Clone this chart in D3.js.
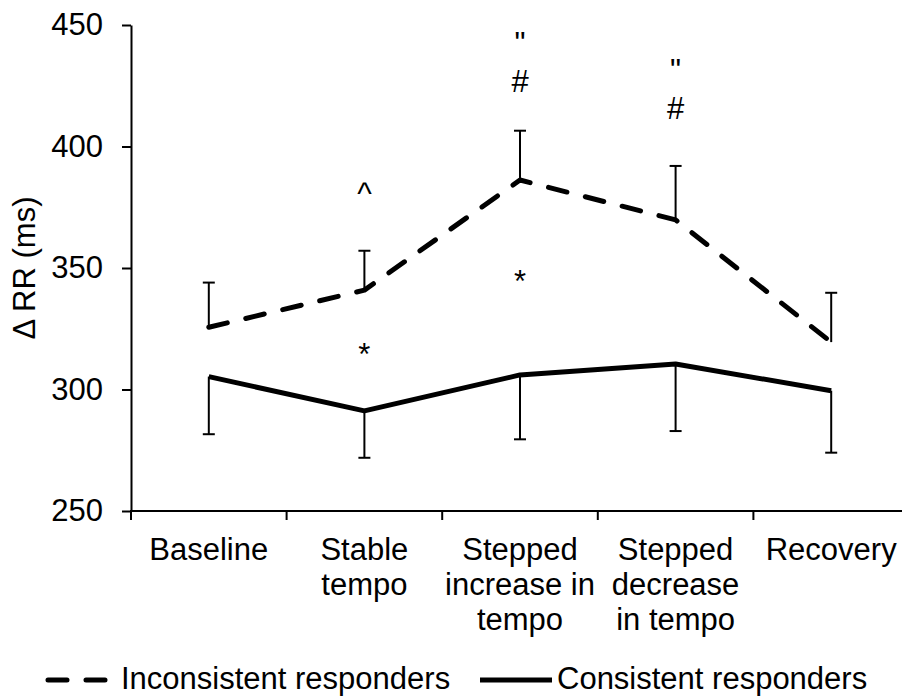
<!DOCTYPE html>
<html>
<head>
<meta charset="utf-8">
<script src="https://cdn.jsdelivr.net/npm/d3@7"></script>
<style>
  html, body { margin: 0; padding: 0; background: #fff; }
  svg { display: block; }
  text { font-family: "Liberation Sans", Arial, sans-serif; fill: #000; }
</style>
</head>
<body>
<svg id="chart" width="902" height="699"></svg>
<script>
// ---- data ----
const categories = ["Baseline", "Stable tempo", "Stepped increase in tempo", "Stepped decrease in tempo", "Recovery"];
const categoryLines = [["Baseline"], ["Stable", "tempo"], ["Stepped", "increase in", "tempo"], ["Stepped", "decrease", "in tempo"], ["Recovery"]];
const inconsistentMean = [325.6, 340.9, 386.2, 369.8, 319.5];
const inconsistentUpper = [344.0, 357.1, 406.5, 392.0, 339.8];
const consistentMean = [305.3, 291.2, 306.0, 310.5, 299.5];
const consistentLower = [281.6, 271.9, 279.5, 282.9, 274.0];
const yTicks = [250, 300, 350, 400, 450];
const annotations = [
  { cat: "Stable tempo", value: 376.5, label: "^" },
  { cat: "Stable tempo", value: 310, label: "*" },
  { cat: "Stepped increase in tempo", value: 340, label: "*" },
  { cat: "Stepped increase in tempo", value: 422.5, label: "#" },
  { cat: "Stepped increase in tempo", value: 438, label: "\"" },
  { cat: "Stepped decrease in tempo", value: 411.5, label: "#" },
  { cat: "Stepped decrease in tempo", value: 427, label: "\"" }
];
const seriesNames = ["Inconsistent responders", "Consistent responders"];

// ---- layout ----
const svg = d3.select("#chart");
const FS = 31;
const x = d3.scaleBand().domain(categories).range([131, 909]).padding(0);
const y = d3.scaleLinear().domain([250, 450]).range([511, 25]);
const cx = c => x(c) + x.bandwidth() / 2;

// y axis
const yAxis = svg.append("g").attr("transform", "translate(131,0)")
  .call(d3.axisLeft(y).tickValues(yTicks).tickSize(9).tickPadding(19).tickSizeOuter(0));
yAxis.select(".domain").attr("stroke", "#000").attr("stroke-width", 2);
yAxis.selectAll(".tick line").attr("stroke", "#000").attr("stroke-width", 2);
yAxis.selectAll(".tick text").attr("font-size", FS).attr("font-family", "Liberation Sans, Arial, sans-serif").attr("fill", "#000");

// x axis (line + ticks at band edges)
const edges = categories.map(c => x(c));
svg.append("line").attr("x1", 130).attr("x2", 909).attr("y1", y(250)).attr("y2", y(250))
  .attr("stroke", "#000").attr("stroke-width", 2);
svg.selectAll(".xtick").data(edges).enter().append("line")
  .attr("x1", d => d).attr("x2", d => d).attr("y1", y(250)).attr("y2", y(250) + 9)
  .attr("stroke", "#000").attr("stroke-width", 2);

// category labels
const lab = svg.selectAll(".xlab").data(categories).enter().append("text")
  .attr("text-anchor", "middle").attr("font-size", FS)
  .attr("x", d => cx(d)).attr("y", 560);
lab.each(function(d, i) {
  d3.select(this).selectAll("tspan").data(categoryLines[i]).enter().append("tspan")
    .attr("x", cx(d)).attr("dy", (t, j) => j === 0 ? 0 : 35).text(t => t);
});

// y label
svg.append("text").attr("transform", "translate(35,268) rotate(-90)")
  .attr("text-anchor", "middle").attr("font-size", FS).text("\u0394 RR (ms)");

// error bars
function errorBars(means, ends) {
  const g = svg.append("g");
  categories.forEach((c, i) => {
    g.append("line").attr("x1", cx(c)).attr("x2", cx(c)).attr("y1", y(means[i])).attr("y2", y(ends[i]))
      .attr("stroke", "#000").attr("stroke-width", 2);
    g.append("line").attr("x1", cx(c) - 6).attr("x2", cx(c) + 6).attr("y1", y(ends[i])).attr("y2", y(ends[i]))
      .attr("stroke", "#000").attr("stroke-width", 2);
  });
}
errorBars(consistentMean, consistentLower);

const line = d3.line().x((d, i) => cx(categories[i])).y(d => y(d));
svg.append("path").datum(consistentMean).attr("d", line)
  .attr("fill", "none").attr("stroke", "#000").attr("stroke-width", 5).attr("stroke-linejoin", "round");
svg.append("path").datum(inconsistentMean).attr("d", line)
  .attr("fill", "none").attr("stroke", "#000").attr("stroke-width", 5)
  .attr("stroke-dasharray", "19,19").attr("stroke-linecap", "round").attr("stroke-linejoin", "round");
errorBars(inconsistentMean, inconsistentUpper);

// annotations
svg.selectAll(".ann").data(annotations).enter().append("text")
  .attr("text-anchor", "middle").attr("font-size", FS)
  .attr("x", d => cx(d.cat)).attr("y", d => y(d.value)).text(d => d.label);

// legend
svg.append("line").attr("x1", 48).attr("x2", 109).attr("y1", 680).attr("y2", 680)
  .attr("stroke", "#000").attr("stroke-width", 5).attr("stroke-dasharray", "19,19").attr("stroke-linecap", "round");
svg.append("text").attr("x", 121).attr("y", 689).attr("font-size", FS).text(seriesNames[0]);
svg.append("line").attr("x1", 480).attr("x2", 552).attr("y1", 680).attr("y2", 680)
  .attr("stroke", "#000").attr("stroke-width", 5);
svg.append("text").attr("x", 557).attr("y", 689).attr("font-size", FS).text(seriesNames[1]);
</script>
</body>
</html>
